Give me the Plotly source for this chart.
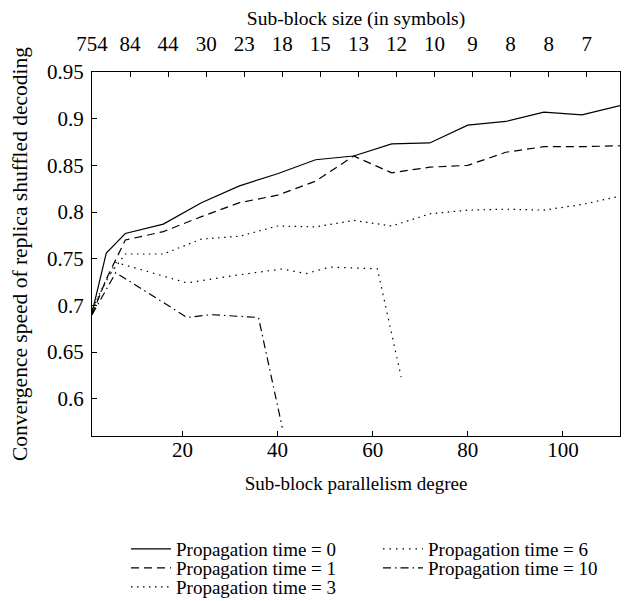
import plotly.graph_objects as go

# Sub-block parallelism degree (x) and convergence speed (y)
x_main = [1, 4, 8, 16, 24, 32, 40, 48, 56, 64, 72, 80, 88, 96, 104, 112]
y_t0 = [0.692, 0.756, 0.777, 0.787, 0.810, 0.828, 0.841, 0.856, 0.860, 0.873, 0.874, 0.893, 0.897, 0.907, 0.904, 0.914]
y_t1 = [0.690, 0.728, 0.770, 0.779, 0.795, 0.810, 0.818, 0.833, 0.860, 0.842, 0.848, 0.850, 0.864, 0.870, 0.870, 0.871]
y_t3 = [0.694, 0.728, 0.755, 0.755, 0.771, 0.774, 0.785, 0.784, 0.791, 0.785, 0.798, 0.802, 0.803, 0.802, 0.808, 0.817]

x_t6 = [1, 6, 21, 31, 41, 46, 51, 61, 66]
y_t6 = [0.696, 0.746, 0.724, 0.732, 0.739, 0.734, 0.741, 0.739, 0.623]

x_t10 = [1, 6, 21, 26, 36, 41]
y_t10 = [0.690, 0.735, 0.687, 0.690, 0.687, 0.569]

# Top axis: sub-block size (in symbols)
top_tick_pos = [1, 9, 17, 25, 33, 41, 49, 57, 65, 73, 81, 89, 97, 105]
top_tick_text = ["754", "84", "44", "30", "23", "18", "15", "13", "12", "10", "9", "8", "8", "7"]

y_ticks = [0.6, 0.65, 0.7, 0.75, 0.8, 0.85, 0.9, 0.95]
y_tick_text = ["0.6", "0.65", "0.7", "0.75", "0.8", "0.85", "0.9", "0.95"]
x_ticks = [20, 40, 60, 80, 100]

FONT = "Liberation Serif"


def f(size):
    return dict(family=FONT, size=size, color="black")


fig = go.Figure()

series = [
    ("Propagation time = 0", x_main, y_t0, "solid", "legend"),
    ("Propagation time = 1", x_main, y_t1, "8px,5px", "legend2"),
    ("Propagation time = 3", x_main, y_t3, "1.5px,4.5px", "legend3"),
    ("Propagation time = 6", x_t6, y_t6, "1.5px,5px", "legend4"),
    ("Propagation time = 10", x_t10, y_t10, "8px,4px,1.5px,4px", "legend5"),
]
for name, xs, ys, dash, lg in series:
    fig.add_trace(go.Scatter(
        x=xs, y=ys, mode="lines", name=name, legend=lg,
        line=dict(color="black", width=1.2, dash=dash),
        hoverinfo="skip"))

# invisible trace to anchor the top axis
fig.add_trace(go.Scatter(x=top_tick_pos, y=[None] * len(top_tick_pos),
                         xaxis="x2", yaxis="y", mode="lines",
                         showlegend=False, hoverinfo="skip"))

# The page body adds an 8px offset; margins compensate so the plot box
# lands at x 92..620, y 72..436 in the screenshot.
ML, MT, MR, MB = 84, 64, 23, 173
PW = 635 - ML - MR
PH = 601 - MT - MB
legend_pos = [(126, 549), (126, 568), (126, 587), (378, 549), (378, 568)]


def leg(px, py):
    # px, py relative to the intended plot box (left 92, bottom 436)
    return dict(
        x=(px - 92) / PW, xanchor="left",
        y=-(py - 436) / PH, yanchor="middle",
        font=f(19), itemwidth=40,
        bgcolor="rgba(0,0,0,0)", borderwidth=0)


fig.update_layout(
    width=635, height=601,
    margin=dict(l=ML, r=MR, t=MT, b=MB, autoexpand=False),
    paper_bgcolor="white", plot_bgcolor="white",
    font=f(17),
    showlegend=True,
    xaxis=dict(
        range=[1, 112], tickvals=x_ticks, ticks="inside", ticklen=5,
        tickcolor="black", showline=True, linecolor="black", linewidth=1.2,
        showgrid=False, zeroline=False, ticklabelstandoff=-5,
        title=dict(text="Sub-block parallelism degree", standoff=15, font=f(19)),
        tickfont=f(21)),
    xaxis2=dict(
        overlaying="x", side="top", range=[1, 112],
        tickvals=top_tick_pos, ticktext=top_tick_text,
        ticks="inside", ticklen=5, tickcolor="black",
        showline=True, linecolor="black", linewidth=1.2,
        showgrid=False, zeroline=False, ticklabelstandoff=12,
        title=dict(text="Sub-block size (in symbols)", standoff=8, font=f(19.5)),
        tickfont=f(21)),
    yaxis=dict(
        range=[0.56, 0.95], tickvals=y_ticks, ticktext=y_tick_text,
        ticks="inside", ticklen=5, tickcolor="black", ticklabelstandoff=3,
        showline=True, mirror=True, linecolor="black", linewidth=1.2,
        showgrid=False, zeroline=False,
        title=dict(text="Convergence speed of replica shuffled decoding",
                   standoff=16, font=f(21.5)),
        tickfont=f(21)),
    legend=leg(*legend_pos[0]),
    legend2=leg(*legend_pos[1]),
    legend3=leg(*legend_pos[2]),
    legend4=leg(*legend_pos[3]),
    legend5=leg(*legend_pos[4]),
)

fig.write_html("out.html")
